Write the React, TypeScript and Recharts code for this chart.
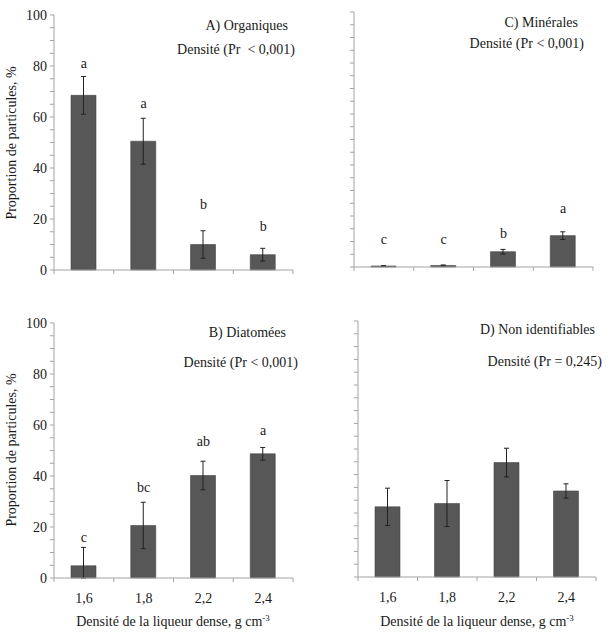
import React from "react";
import {
  ComposedChart,
  Bar,
  Line,
  XAxis,
  YAxis,
  ErrorBar,
  LabelList,
} from "recharts";

const densities = ["1,6", "1,8", "2,2", "2,4"];

// A) Organiques
const organiques = [68.5, 50.5, 10, 6];
const organiquesErr = [7.4, 9, 5.4, 2.5];
const organiquesLetters = ["a", "a", "b", "b"];
const organiquesLetterY = [80.8, 65.1, 25.5, 16.9];

// C) Minérales
const minerales = [0.4, 0.6, 6, 12.3];
const mineralesErr = [0.1, 0.2, 0.9, 1.5];
const mineralesLetters = ["c", "c", "b", "a"];
const mineralesLetterY = [10.6, 10.6, 13.3, 23];

// B) Diatomées (first error bar is clipped at 0)
const diatomees = [4.8, 20.6, 40.2, 48.7];
const diatomeesErrLow = [4.8, 9.1, 5.6, 2.5];
const diatomeesErrHigh = [7.2, 9.1, 5.6, 2.5];
const diatomeesLetters = ["c", "bc", "ab", "a"];
const diatomeesLetterY = [15.8, 35.5, 53.6, 57.9];

// D) Non identifiables
const nonIdent = [27.4, 28.7, 44.7, 33.6];
const nonIdentErr = [7.3, 9, 5.6, 2.8];

const yTicks = [0, 5, 10, 15, 20, 25, 30, 35, 40, 45, 50, 55, 60, 65, 70, 75, 80, 85, 90, 95, 100];

const FONT = "'Liberation Serif', 'Times New Roman', serif";
const AXIS = "#a3a3a3";
const BAR = "#575757";
const INK = "#1a1a1a";

type Row = { d: string; v: number; err: [number, number]; letter: string; ly: number | null };

function buildRows(vals: number[], low: number[], high: number[], letters: string[] | null, ly: number[] | null): Row[] {
  return densities.map((d, i) => ({
    d,
    v: vals[i],
    err: [low[i], high[i]],
    letter: letters ? letters[i] : "",
    ly: ly ? ly[i] : null,
  }));
}

const LetterLabel = (props: any) => {
  const { x, y, value } = props;
  if (!value) return null;
  return (
    <text x={x} y={y} textAnchor="middle" dominantBaseline="central" fontFamily={FONT} fontSize={14} fill={INK}>
      {value}
    </text>
  );
};

// Excel-style category ticks: marks on the category boundaries, labels in the middle
const makeXTick = (band: number, showLabel: boolean) => (props: any) => {
  const { x, y, payload, index, visibleTicksCount } = props;
  const half = band / 2;
  return (
    <g>
      <line x1={x - half} y1={y} x2={x - half} y2={y + 4} stroke={AXIS} />
      {index === visibleTicksCount - 1 && <line x1={x + half} y1={y} x2={x + half} y2={y + 4} stroke={AXIS} />}
      {showLabel && (
        <text x={x} y={y + 25} textAnchor="middle" fontFamily={FONT} fontSize={14} fill={INK}>
          {payload.value}
        </text>
      )}
    </g>
  );
};

function Panel({
  rows,
  left,
  top,
  width,
  height,
  margin,
  yWidth,
  yLabels,
  xLabels,
}: {
  rows: Row[];
  left: number;
  top: number;
  width: number;
  height: number;
  margin: { top: number; right: number; bottom: number; left: number };
  yWidth: number;
  yLabels: boolean;
  xLabels: boolean;
}) {
  const band = (width - margin.left - margin.right - yWidth) / rows.length;
  return (
    <div style={{ position: "absolute", left, top }}>
      <ComposedChart width={width} height={height} data={rows} margin={margin}>
        <XAxis
          dataKey="d"
          height={30}
          stroke={AXIS}
          tickLine={false}
          tickSize={0}
          tickMargin={0}
          interval={0}
          tick={makeXTick(band, xLabels)}
        />
        <YAxis
          domain={[0, 100]}
          ticks={yTicks}
          interval={0}
          width={yWidth}
          stroke={AXIS}
          tickSize={4}
          tickMargin={3}
          tick={{ fontFamily: FONT, fontSize: 14, fill: INK }}
          tickFormatter={(v: number) => (yLabels && v % 20 === 0 ? String(v) : "")}
        />
        <Bar dataKey="v" barSize={25} fill={BAR} stroke="#454545" strokeWidth={0.6} isAnimationActive={false}>
          <ErrorBar dataKey="err" width={2.5} stroke="#222" strokeWidth={1} />
        </Bar>
        <Line dataKey="ly" stroke="none" dot={false} activeDot={false} isAnimationActive={false}>
          <LabelList dataKey="letter" content={LetterLabel} />
        </Line>
      </ComposedChart>
    </div>
  );
}

const textBase: React.CSSProperties = {
  position: "absolute",
  fontFamily: FONT,
  fontSize: 14,
  lineHeight: "18px",
  height: 18,
  color: INK,
  whiteSpace: "nowrap",
};

function RightText({ text, right, cy }: { text: React.ReactNode; right: number; cy: number }) {
  return <div style={{ ...textBase, right: 611 - right, top: cy - 9, textAlign: "right" }}>{text}</div>;
}

function CenterText({ text, cx, cy, rotate }: { text: React.ReactNode; cx: number; cy: number; rotate?: boolean }) {
  return (
    <div
      style={{
        ...textBase,
        width: 300,
        left: cx - 150,
        top: cy - 9,
        textAlign: "center",
        transform: rotate ? "rotate(-90deg)" : undefined,
      }}
    >
      {text}
    </div>
  );
}

const xTitle = (
  <span>
    Densité de la liqueur dense, g cm<sup style={{ fontSize: 9, verticalAlign: "5px", lineHeight: 0 }}>-3</sup>
  </span>
);

export default function App() {
  const rowsA = buildRows(organiques, organiquesErr, organiquesErr, organiquesLetters, organiquesLetterY);
  const rowsC = buildRows(minerales, mineralesErr, mineralesErr, mineralesLetters, mineralesLetterY);
  const rowsB = buildRows(diatomees, diatomeesErrLow, diatomeesErrHigh, diatomeesLetters, diatomeesLetterY);
  const rowsD = buildRows(nonIdent, nonIdentErr, nonIdentErr, null, null);

  return (
    <div style={{ position: "absolute", left: 0, top: 0, width: 611, height: 636, background: "#fff", overflow: "hidden" }}>
      <Panel rows={rowsA} left={0} top={0} width={305} height={300} margin={{ top: 15, right: 12, bottom: 0, left: 0 }} yWidth={54} yLabels xLabels={false} />
      <Panel rows={rowsC} left={305} top={0} width={306} height={300} margin={{ top: 12, right: 18, bottom: 3, left: 0 }} yWidth={49} yLabels={false} xLabels={false} />
      <Panel rows={rowsB} left={0} top={300} width={305} height={336} margin={{ top: 23, right: 12, bottom: 28, left: 0 }} yWidth={54} yLabels xLabels />
      <Panel rows={rowsD} left={305} top={300} width={306} height={336} margin={{ top: 21, right: 15, bottom: 29, left: 0 }} yWidth={53} yLabels={false} xLabels />

      <RightText text="A) Organiques" right={288} cy={26} />
      <RightText text={"Densité (Pr\u00a0 < 0,001)"} right={295} cy={50} />
      <RightText text="C) Minérales" right={578} cy={23} />
      <RightText text="Densité (Pr < 0,001)" right={584} cy={44} />
      <RightText text="B) Diatomées" right={286} cy={333} />
      <RightText text="Densité (Pr < 0,001)" right={298} cy={363} />
      <RightText text="D) Non identifiables" right={595} cy={330} />
      <RightText text="Densité (Pr = 0,245)" right={602} cy={362} />

      <CenterText text="Proportion de particules, %" cx={12} cy={143} rotate />
      <CenterText text="Proportion de particules, %" cx={12} cy={450} rotate />
      <CenterText text={xTitle} cx={173} cy={622} />
      <CenterText text={xTitle} cx={477} cy={622} />
    </div>
  );
}
